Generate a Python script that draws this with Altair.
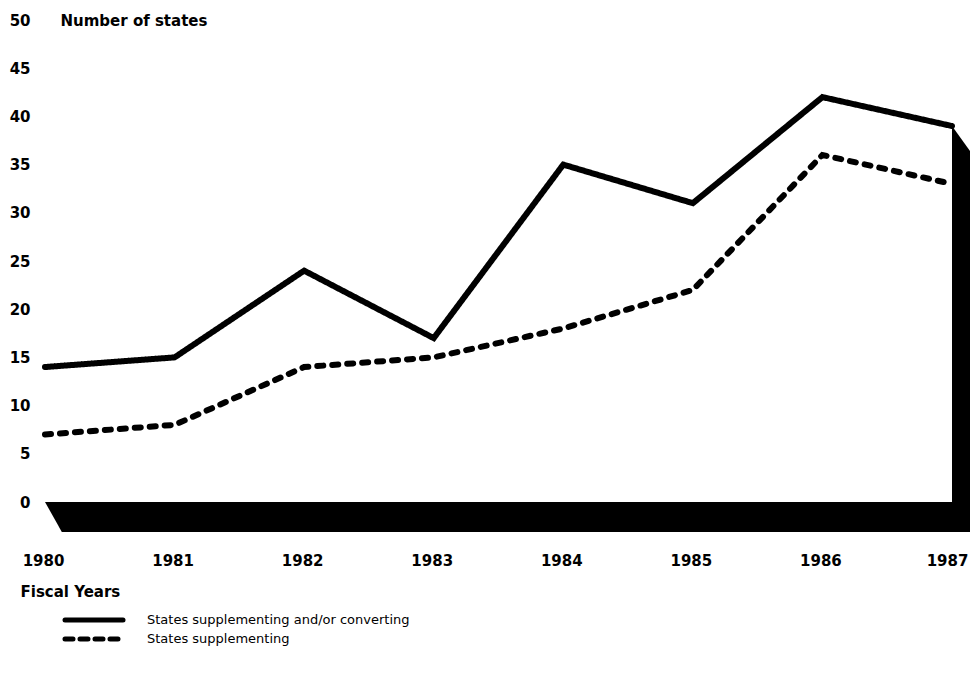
import altair as alt
import pandas as pd

years = [1980, 1981, 1982, 1983, 1984, 1985, 1986, 1987]
supp_or_conv = [14, 15, 24, 17, 35, 31, 42, 39]
supp = [7, 8, 14, 15, 18, 22, 36, 33]
series_names = ["States supplementing and/or converting", "States supplementing"]
y_ticks = [0, 5, 10, 15, 20, 25, 30, 35, 40, 45, 50]

# decorative 3-D floor and side wall (data units)
floor_x = [1980, 1980.13, 1987.14]
floor_top = [0, 0, 0]
floor_bot = [0, -3.1, -3.1]
wall_x = [1987, 1987.14]
wall_top = [39, 36.4]
wall_bot = [-3.1, -3.1]

FONT = "DejaVu Sans"

rows = []
for name, vals in zip(series_names, [supp_or_conv, supp]):
    for yr, v in zip(years, vals):
        rows.append({"year": yr, "value": v, "series": name})
df = pd.DataFrame(rows)

xscale = alt.Scale(domain=[1980, 1987], nice=False, zero=False)
yscale = alt.Scale(domain=[0, 50], nice=False, zero=False)

x_axis = alt.Axis(
    values=years, format="d", domain=False, ticks=False, tickSize=0, grid=False,
    labelPadding=51, labelFlush=False, labelOverlap=False,
    labelOffset={"condition": {"test": "datum.value == 1987", "value": -5}, "value": -2},
    labelFont=FONT, labelFontSize=15, labelFontWeight="bold", labelColor="black",
    title="Fiscal Years", titleX=-25, titleY=89, titleAlign="left",
    titleBaseline="middle", titleFont=FONT, titleFontSize=15,
    titleFontWeight="bold", titleColor="black",
)
y_axis = alt.Axis(
    values=y_ticks, domain=False, ticks=False, tickSize=0, grid=False,
    labelPadding=15, labelOverlap=False, labelFlush=False,
    labelFont=FONT, labelFontSize=15, labelFontWeight="bold", labelColor="black",
    title="Number of states", titleAngle=0, titleX=15, titleY=0,
    titleAlign="left", titleBaseline="middle", titleFont=FONT,
    titleFontSize=15, titleFontWeight="bold", titleColor="black",
)

floor = alt.Chart(pd.DataFrame({"x": floor_x, "y": floor_top, "y2": floor_bot})).mark_area(
    color="black", opacity=1
).encode(
    x=alt.X("x:Q", scale=xscale, axis=x_axis, title="Fiscal Years"),
    y=alt.Y("y:Q", scale=yscale, axis=y_axis, title="Number of states"),
    y2="y2:Q",
)
wall = alt.Chart(pd.DataFrame({"x": wall_x, "y": wall_top, "y2": wall_bot})).mark_area(
    color="black", opacity=1
).encode(
    x=alt.X("x:Q", scale=xscale, axis=x_axis, title="Fiscal Years"),
    y=alt.Y("y:Q", scale=yscale, axis=y_axis, title="Number of states"),
    y2="y2:Q",
)

lines = alt.Chart(df).mark_line(
    color="black", strokeWidth=6, strokeCap="round", strokeJoin="miter"
).encode(
    x=alt.X("year:Q", scale=xscale, axis=x_axis, title="Fiscal Years"),
    y=alt.Y("value:Q", scale=yscale, axis=y_axis, title="Number of states"),
    strokeDash=alt.StrokeDash(
        "series:N",
        scale=alt.Scale(domain=series_names, range=[[1, 0], [6, 9]]),
        legend=None,
    ),
    detail="series:N",
)

leg_solid = alt.Chart(pd.DataFrame({"label": [series_names[0]]})).mark_rule(
    color="black", strokeWidth=5, strokeCap="round"
).encode(x=alt.value(20), x2=alt.value(78), y=alt.value(600))
leg_dash = alt.Chart(pd.DataFrame({"label": [series_names[1]]})).mark_rule(
    color="black", strokeWidth=5, strokeCap="round", strokeDash=[8, 7]
).encode(x=alt.value(20), x2=alt.value(80), y=alt.value(619))
leg_text = alt.Chart(pd.DataFrame({"label": series_names, "pos": [600, 619]})).mark_text(
    align="left", baseline="middle", font=FONT, fontSize=13, color="black"
).encode(x=alt.value(102), y=alt.Y("pos:Q", scale=None), text="label:N")

chart = alt.layer(floor, wall, lines, leg_solid, leg_dash, leg_text).properties(
    width=907, height=482,
    autosize=alt.AutoSizeParams(type="none"),
    padding={"left": 45, "top": 20, "right": 18, "bottom": 175},
).configure(
    background="white",
    view=alt.ViewConfig(stroke="transparent", strokeWidth=0),
)

chart.save("out.html", embed_options={"renderer": "svg", "actions": False})
